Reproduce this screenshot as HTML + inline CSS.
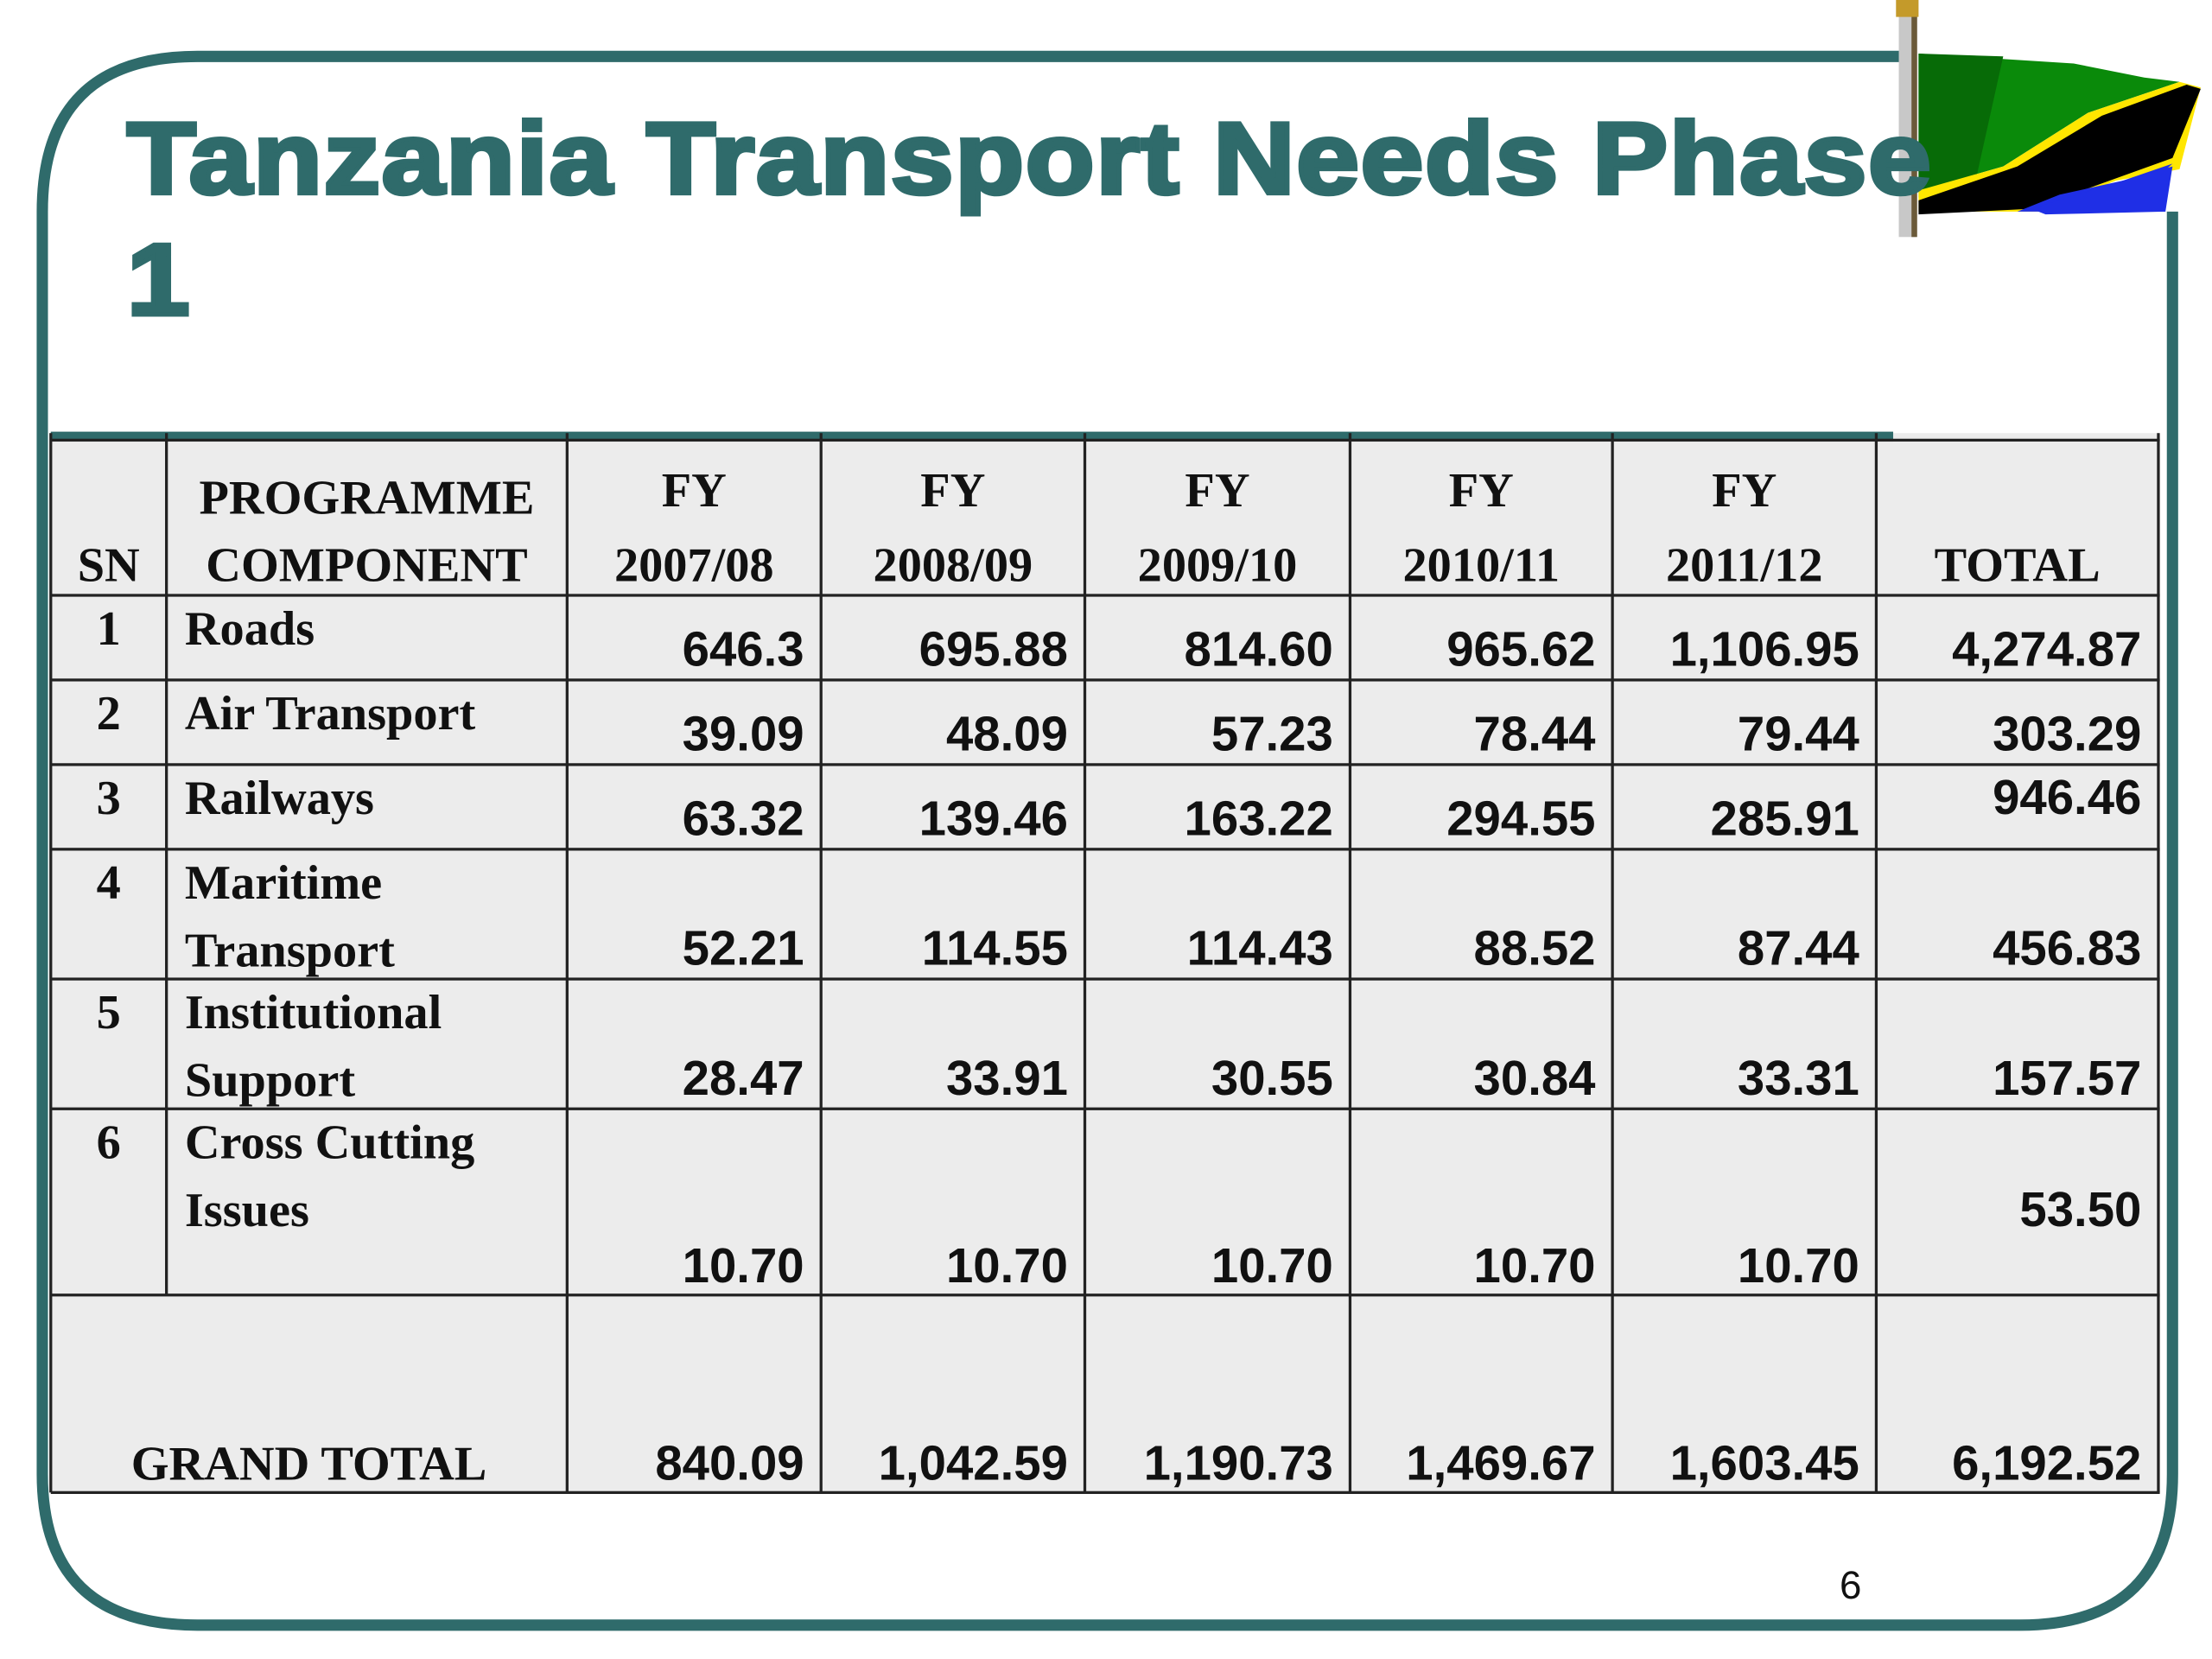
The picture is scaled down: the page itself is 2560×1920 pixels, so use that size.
<!DOCTYPE html>
<html><head><meta charset="utf-8">
<style>
html,body{margin:0;padding:0;background:#fff;}
body{width:2560px;height:1920px;overflow:hidden;position:relative;}
#slide{position:absolute;left:0;top:0;width:1568px;height:1176px;transform:scale(1.63265);transform-origin:0 0;}
.t{position:absolute;white-space:nowrap;line-height:1;}
.num{font-family:"Liberation Sans",Arial,sans-serif;font-weight:bold;font-size:34.5px;color:#111;}
.ser{font-family:"Liberation Serif","Times New Roman",serif;font-weight:bold;font-size:34.5px;color:#111;}
.cell{position:absolute;background:#ececec;}
.vl{position:absolute;background:#222;width:2px;}
.hl{position:absolute;background:#222;height:2px;}
</style></head>
<body>
<div id="slide">
  <svg width="1568" height="1176" style="position:absolute;left:0;top:0">
    <path d="M1350,40 L140,40 Q30,40 30,150 L30,1045 Q30,1152 140,1152 L1432,1152 Q1540,1152 1540,1045 L1540,150" fill="none" stroke="#2f6b6b" stroke-width="8"/>
  </svg>
  <svg width="230" height="175" style="position:absolute;left:1336px;top:0" viewBox="1336 0 230 175">
    <rect x="1346" y="0" width="12" height="168" fill="#c8c8c8"/>
    <rect x="1355" y="5" width="4" height="163" fill="#6b5a3a"/>
    <rect x="1344" y="0" width="16" height="12" fill="#c49a2a"/>
    <polygon points="1360,38 1470,45 1520,55 1545,58 1480,80 1420,118 1360,135" fill="#0a8a0a"/>
    <polygon points="1360,38 1420,40 1400,130 1360,140" fill="#076b07"/>
    <polygon points="1545,58 1560,62 1545,120 1500,128 1445,150 1360,150 1360,135 1420,118 1480,80" fill="#ffe600"/>
    <polygon points="1550,60 1560,63 1540,112 1490,130 1440,148 1360,152 1360,142 1430,118 1490,82" fill="#000"/>
    <polygon points="1540,116 1530,125 1535,150 1500,150 1430,150 1460,138 1505,128" fill="#1f2fe6"/>
    <polygon points="1505,128 1540,118 1535,150 1450,152 1440,148" fill="#1f2fe6"/>
  </svg>
  <div class="t" style="left:90px;top:70px;font-family:'Liberation Sans',Arial,sans-serif;font-weight:900;font-size:72px;color:#2f6b6b;line-height:86px;-webkit-text-stroke:3px #2f6b6b;letter-spacing:1px;transform:scaleX(1.11);transform-origin:0 0;">Tanzania Transport Needs Phase<br>1</div>
  <div id="table"></div>
  <div class="t" style="left:1304px;top:1110px;font-family:'Liberation Sans',Arial,sans-serif;font-size:28px;color:#111;">6</div>
</div>
<script>
const years = ["2007/08","2008/09","2009/10","2010/11","2011/12"];
const components = [["Roads"],["Air Transport"],["Railways"],["Maritime","Transport"],["Institutional","Support"],["Cross Cutting","Issues"]];
const values = [
 ["646.3","695.88","814.60","965.62","1,106.95"],
 ["39.09","48.09","57.23","78.44","79.44"],
 ["63.32","139.46","163.22","294.55","285.91"],
 ["52.21","114.55","114.43","88.52","87.44"],
 ["28.47","33.91","30.55","30.84","33.31"],
 ["10.70","10.70","10.70","10.70","10.70"]
];
const totals = ["4,274.87","303.29","946.46","456.83","157.57","53.50"];
const grandTotals = ["840.09","1,042.59","1,190.73","1,469.67","1,603.45","6,192.52"];

const cols=[36,118,402,582,769,957,1143,1330,1530];
const rows=[312,422,482,542,602,694,786,918,1058];
const numBase=[475,535,595,687,779,912];
const totBase=[475,535,580,687,779,872];
const tbl=document.getElementById('table');
function txt(cls,s,x,baseline,align,name){
  const d=document.createElement('div');
  d.className='t '+cls;
  d.textContent=s;
  const asc = cls==='num'?31.3:30.7;
  d.style.top=(baseline-asc)+'px';
  if(align==='right'){d.style.right=(1568-x)+'px';}
  else if(align==='center'){d.style.left=(x-200)+'px';d.style.width='400px';d.style.textAlign='center';}
  else d.style.left=x+'px';
  
  
  tbl.appendChild(d);
  return d;
}
const bg=document.createElement('div');
bg.className='cell';
bg.style.cssText='left:36px;top:307px;width:1494px;height:751px;';


tbl.appendChild(bg);
const th=document.createElement('div');
th.style.cssText='position:absolute;left:36px;top:306px;width:1306px;height:7px;background:#2f6b6b;';


tbl.appendChild(th);
rows.forEach((y,i)=>{
  const h=document.createElement('div');
  h.className='hl';
  h.style.left='36px';h.style.top=(y-1)+'px';h.style.width='1495px';
  
  
  tbl.appendChild(h);
});
cols.forEach((x,i)=>{
  const v=document.createElement('div');
  v.className='vl';
  const y0=307; let y1=1058;
  if(i===1) y1=918;
  v.style.left=(x-1)+'px';v.style.top=y0+'px';v.style.height=(y1-y0)+'px';
  
  
  tbl.appendChild(v);
});
txt('ser','SN',77,415,'center','header-sn');
txt('ser','PROGRAMME',260,367,'center','header-programme');
txt('ser','COMPONENT',260,415,'center','header-component');
years.forEach((y,i)=>{
  const cx=(cols[i+2]+cols[i+3])/2;
  txt('ser','FY',cx,362,'center','header-fy');
  txt('ser',y,cx,415,'center','header-year');
});
txt('ser','TOTAL',1430,415,'center','header-total');
components.forEach((c,r)=>{
  const top=rows[r+1];
  const b1=top+38;
  txt('ser',String(r+1),77,b1,'center','row-number');
  c.forEach((l,k)=>txt('ser',l,131,b1+k*48,'left','component-label'));
  values[r].forEach((v,i)=>txt('num',v,cols[i+3]-12,numBase[r],'right','value-cell'));
  txt('num',totals[r],1518,totBase[r],'right','total-cell');
});
txt('ser','GRAND TOTAL',219,1052,'center','grand-total-label');
grandTotals.forEach((v,i)=>txt('num',v,(i<5?cols[i+3]-12:1518),1052,'right','grand-total-value'));
</script>
</body></html>
